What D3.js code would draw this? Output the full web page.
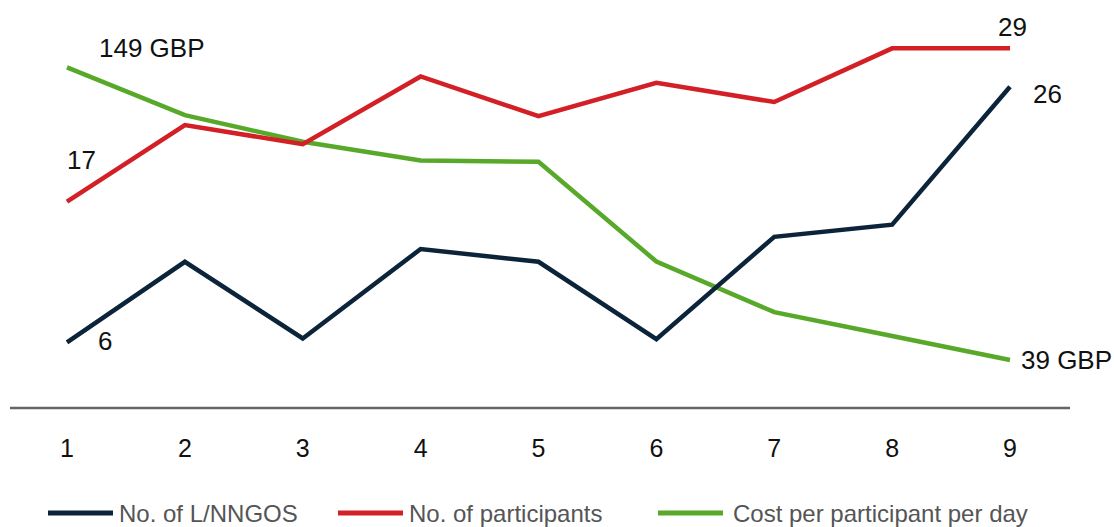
<!DOCTYPE html>
<html>
<head>
<meta charset="utf-8">
<script src="https://cdn.jsdelivr.net/npm/d3@7"></script>
<style>
  body { margin: 0; background: #fff; }
  text { font-family: "Liberation Sans", Arial, Helvetica, sans-serif; }
</style>
</head>
<body>
<div id="chart"></div>
<script>
// Data
const periods = [1, 2, 3, 4, 5, 6, 7, 8, 9];
const ngos = [6, 12.3, 6.3, 13.3, 12.3, 6.25, 14.25, 15.2, 26];
const participants = [17, 23, 21.5, 26.8, 23.7, 26.3, 24.8, 29, 29];
const costPerDay = [149, 131, 121, 114, 113.5, 76, 57, 48, 39];
const seriesNames = ["No. of L/NNGOS", "No. of participants", "Cost per participant per day"];
const colors = ["#0c2439", "#d31f26", "#58a92a"];

const width = 1114, height = 527;

const svg = d3.select("#chart")
    .append("svg")
    .attr("width", width)
    .attr("height", height);

// scales: counts share one axis, cost has its own
const x = d3.scaleLinear().domain([1, 9]).range([67, 1010]);
const yCount = d3.scaleLinear().domain([6, 26]).range([342.3, 86.7]);
const yCost = d3.scaleLinear().domain([39, 149]).range([360, 67.3]);

// baseline
svg.append("line")
    .attr("x1", 10).attr("x2", 1070)
    .attr("y1", 408).attr("y2", 408)
    .attr("stroke", "#666")
    .attr("stroke-width", 2.5);

// x tick labels
svg.selectAll("text.tick")
    .data(periods)
    .enter().append("text")
    .attr("class", "tick")
    .attr("x", d => x(d))
    .attr("y", 456.5)
    .attr("text-anchor", "middle")
    .style("font-size", "25px")
    .attr("fill", "#111")
    .text(d => d);

// lines
const series = [
    { vals: ngos, y: yCount, color: colors[0] },
    { vals: participants, y: yCount, color: colors[1] },
    { vals: costPerDay, y: yCost, color: colors[2] }
];

// draw green first so red/navy cross on top like the reference
[2, 1, 0].forEach(i => {
    const s = series[i];
    const line = d3.line()
        .x((d, j) => x(periods[j]))
        .y(d => s.y(d));
    svg.append("path")
        .datum(s.vals)
        .attr("d", line)
        .attr("fill", "none")
        .attr("stroke", s.color)
        .attr("stroke-width", 4.5)
        .attr("stroke-linejoin", "miter");
});

// end-point labels
const labels = [
    { text: costPerDay[0] + " GBP", x: x(1) + 32, y: yCost(costPerDay[0]) - 10 },
    { text: participants[0], x: x(1), y: yCount(participants[0]) - 33 },
    { text: ngos[0], x: x(1) + 31, y: yCount(ngos[0]) + 8 },
    { text: participants[8], x: x(9) - 12, y: yCount(participants[8]) - 12 },
    { text: ngos[8], x: x(9) + 23, y: yCount(ngos[8]) + 16 },
    { text: costPerDay[8] + " GBP", x: x(9) + 11, y: yCost(costPerDay[8]) + 9 }
];

svg.selectAll("text.lbl")
    .data(labels)
    .enter().append("text")
    .attr("class", "lbl")
    .attr("x", d => d.x)
    .attr("y", d => d.y)
    .style("font-size", "26px")
    .attr("fill", "#111")
    .text(d => d.text);

// legend
const legendX = [48, 338, 658];
seriesNames.forEach((name, i) => {
    const g = svg.append("g")
        .attr("transform", `translate(${legendX[i]}, 513)`);
    g.append("line")
        .attr("x1", 0).attr("x2", 65)
        .attr("y1", 0).attr("y2", 0)
        .attr("stroke", colors[i])
        .attr("stroke-width", 5);
    g.append("text")
        .attr("x", i === 2 ? 75 : 71)
        .attr("y", 9)
        .style("font-size", "24px")
        .attr("fill", "#555")
        .text(name);
});
</script>
</body>
</html>
